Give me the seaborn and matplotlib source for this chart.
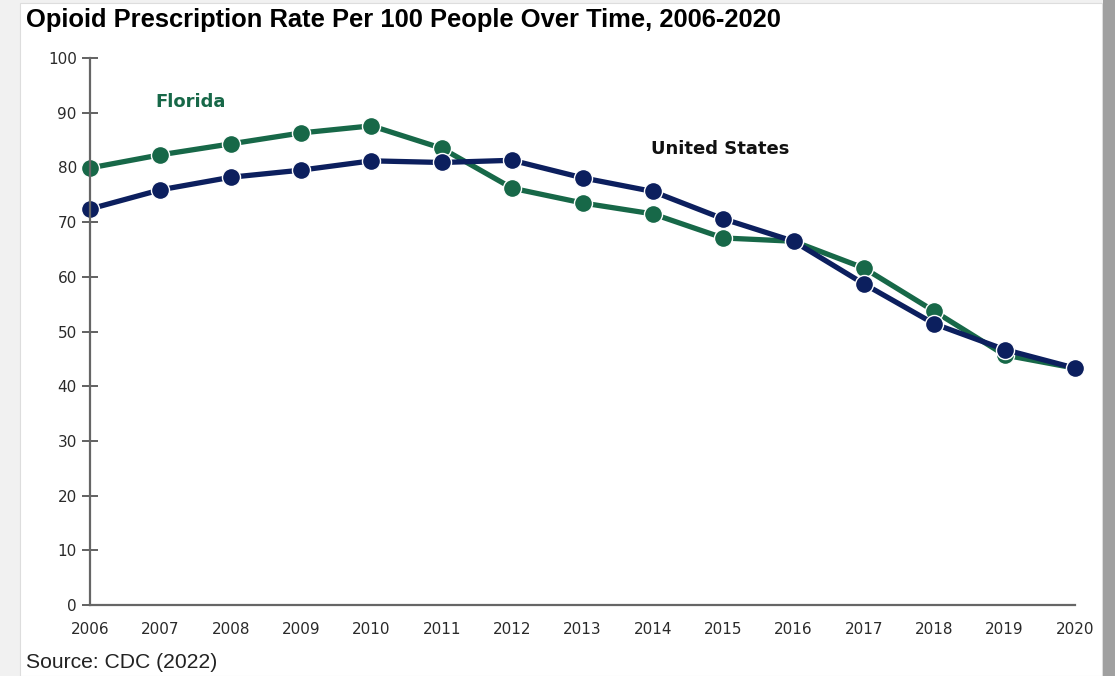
import pandas as pd
import numpy as np
import matplotlib.pyplot as plt
import matplotlib.patches as mpatches
import seaborn as sns

# Opioid prescription rate per 100 people, CDC
years = list(range(2006, 2021))
florida = [79.9, 82.3, 84.3, 86.3, 87.6, 83.5, 76.2, 73.5, 71.5, 67.1, 66.5, 61.6, 53.7, 45.7, 43.3]
united_states = [72.4, 75.9, 78.2, 79.5, 81.2, 80.9, 81.3, 78.1, 75.6, 70.6, 66.5, 58.7, 51.4, 46.7, 43.3]
y_ticks = [0, 10, 20, 30, 40, 50, 60, 70, 80, 90, 100]

df = pd.DataFrame({
    'Year': years * 2,
    'Rate': florida + united_states,
    'Region': ['Florida'] * len(years) + ['United States'] * len(years),
})

green = '#176848'
navy = '#0c1f5e'

sns.set_style('white')
plt.rcParams['font.family'] = ['DejaVu Sans']

fig = plt.figure(figsize=(11.15, 6.76), dpi=100)
fig.patch.set_facecolor('#f1f1f1')
# white card + grey shadow on the right
fig.patches.append(mpatches.Rectangle((20 / 1115, 0), 1082 / 1115, 673 / 676,
                                      transform=fig.transFigure, facecolor='white',
                                      edgecolor='#dddddd', lw=0.8, zorder=-2))
fig.patches.append(mpatches.Rectangle((1103 / 1115, 0), 12 / 1115, 1,
                                      transform=fig.transFigure, facecolor='#a0a0a0',
                                      edgecolor='none', zorder=-2))

ax = fig.add_axes([90 / 1115, 1 - 605 / 676, 985 / 1115, 547 / 676])
ax.set_zorder(2)
ax.patch.set_alpha(0)

sns.lineplot(data=df, x='Year', y='Rate', hue='Region',
             palette={'Florida': green, 'United States': navy},
             hue_order=['Florida', 'United States'],
             linewidth=3.8, marker='o', markersize=13,
             markeredgecolor='white', markeredgewidth=1.0,
             legend=False, ax=ax, clip_on=False)

ax.set_xlim(2006, 2020)
ax.set_ylim(0, 100)
ax.set_xticks(years)
ax.set_yticks(y_ticks)
ax.tick_params(axis='y', left=True, direction='inout', length=11, width=1.3, color='#555555',
               labelsize=11, labelcolor='#2a2a2a', pad=4)
ax.tick_params(axis='x', bottom=False, length=0, labelsize=11, labelcolor='#2a2a2a', pad=12)

for side in ['top', 'right']:
    ax.spines[side].set_visible(False)
for side in ['left', 'bottom']:
    ax.spines[side].set_color('#666666')
    ax.spines[side].set_linewidth(1.6)

ax.set_xlabel('')
ax.set_ylabel('')
ax.grid(False)

ax.text(2006.93, 92.0, 'Florida', color=green, fontsize=13, fontweight='bold',
        ha='left', va='center')
ax.text(2014.95, 83.4, 'United States', color='#111111', fontsize=13, fontweight='bold',
        ha='center', va='center')

fig.text(26 / 1115, 1 - 20 / 676, 'Opioid Prescription Rate Per 100 People Over Time, 2006-2020',
         fontsize=18.4, fontweight='bold', family='Liberation Sans', ha='left', va='center',
         color='black')
fig.text(26 / 1115, 1 - 662 / 676, 'Source: CDC (2022)', fontsize=15.2,
         family='Liberation Sans', ha='left', va='center', color='#222222')

fig.savefig('out.png', dpi=100, facecolor=fig.get_facecolor())
